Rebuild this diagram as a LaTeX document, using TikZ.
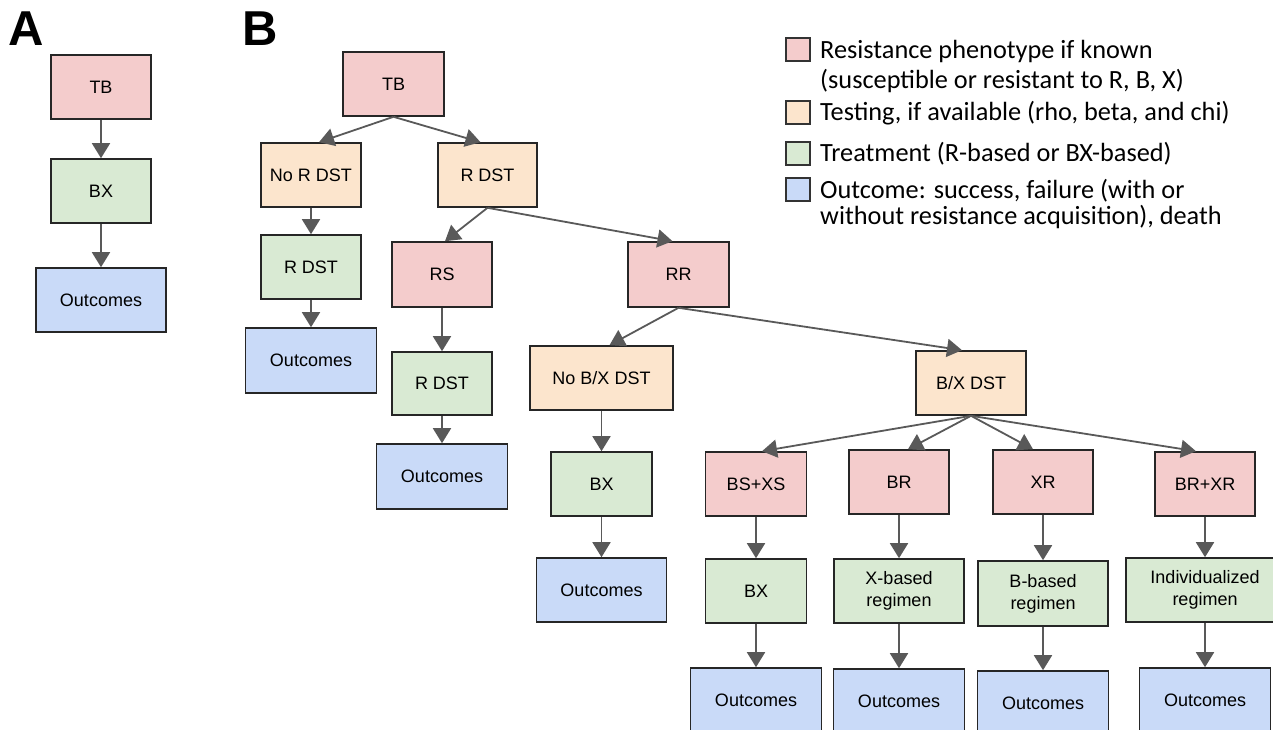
\documentclass[tikz,border=0pt]{standalone}
\usepackage{fontspec}
\usetikzlibrary{arrows.meta}
\newfontfamily\boxfont{Liberation Sans}
\newfontfamily\legfont{Carlito}
\definecolor{phenofill}{HTML}{F4CCCC}
\definecolor{testfill}{HTML}{FCE5CD}
\definecolor{treatfill}{HTML}{D9EAD3}
\definecolor{outfill}{HTML}{C9DAF8}
\definecolor{arrgray}{HTML}{595959}
\tikzset{
  stage/.style={draw=black!85, line width=1.6pt, minimum width=100pt, minimum height=64pt,
    inner sep=1pt, align=center, font=\boxfont\fontsize{18}{22}\selectfont},
  phenobox/.style={stage, fill=phenofill},
  testbox/.style={stage, fill=testfill},
  treatbox/.style={stage, fill=treatfill},
  outbox/.style={stage, fill=outfill, minimum width=131pt},
  arr/.style={draw=arrgray, line width=1.8pt, -{Triangle[width=18pt,length=15pt]}},
  legsq/.style={draw=black!80, line width=1.2pt, minimum width=24pt, minimum height=23pt, inner sep=0pt},
  legtext/.style={anchor=base west, inner sep=0pt, font=\legfont\fontsize{26.3}{30}\selectfont},
  panel/.style={anchor=base west, inner sep=0pt, font=\boxfont\bfseries\fontsize{49}{50}\selectfont}
}
\begin{document}
\begin{tikzpicture}[x=1pt,y=-1pt]
\useasboundingbox (0,0) rectangle (1273,729);
\node[panel] (labA) at (8,45) {A};
\node[panel] (labB) at (242,45) {B};
% panel A
\node[phenobox] (tbA) at (101,87) {TB};
\node[treatbox] (bxA) at (101,191) {BX};
\node[outbox, minimum width=130pt] (outA) at (101,300) {Outcomes};
\draw[arr] (tbA) -- (bxA);
\draw[arr] (bxA) -- (outA);
% panel B
\node[phenobox, minimum width=101pt] (tb) at (393.5,84) {TB};
\node[testbox] (noR) at (311,175) {No R DST};
\node[testbox, minimum width=99pt] (rdst) at (487.5,175) {R DST};
\node[treatbox] (rdstL) at (311,267) {R DST};
\node[outbox, minimum height=65pt] (outL) at (311,360.5) {Outcomes};
\node[phenobox, minimum height=65pt] (rs) at (442,274.5) {RS};
\node[treatbox, minimum height=63pt] (rdstR) at (442,383.5) {R DST};
\node[outbox, minimum height=65pt] (outR) at (442,476.5) {Outcomes};
\node[phenobox, minimum width=101pt, minimum height=65pt] (rr) at (678.5,274.5) {RR};
\node[testbox, minimum width=143pt] (noBX) at (601.5,378) {No B/X DST};
\node[treatbox, minimum width=101pt] (bx) at (601.5,484) {BX};
\node[outbox, minimum width=130pt] (outNB) at (601.5,590) {Outcomes};
\node[testbox, minimum width=110pt] (bxdst) at (971,383) {B/X DST};
\node[phenobox, minimum width=101pt] (bsxs) at (756,484) {BS+XS};
\node[phenobox] (br) at (899,482) {BR};
\node[phenobox] (xr) at (1043,482) {XR};
\node[phenobox] (brxr) at (1205,484) {BR+XR};
\node[treatbox, minimum width=101pt] (bx2) at (756,591) {BX};
\node[treatbox, minimum width=130pt] (xb) at (899,591) {X-based\\regimen};
\node[treatbox, minimum width=130pt, minimum height=65pt] (bb) at (1043,593.5) {B-based\\regimen};
\node[treatbox, minimum width=158pt] (ind) at (1205,590) {Individualized\\regimen};
\node[outbox] (out1) at (756,700) {Outcomes};
\node[outbox] (out2) at (899,701) {Outcomes};
\node[outbox] (out3) at (1043,703) {Outcomes};
\node[outbox] (out4) at (1205,700) {Outcomes};
\draw[arr] (tb.south) -- ([xshift=8pt]noR.north);
\draw[arr] (tb.south) -- ([xshift=-7pt]rdst.north);
\draw[arr] (noR) -- (rdstL);
\draw[arr] (rdstL) -- (outL);
\draw[arr] (rdst.south) -- ([xshift=3pt]rs.north);
\draw[arr] (rdst.south) -- ([xshift=-6pt]rr.north);
\draw[arr] (rs) -- (rdstR);
\draw[arr] (rdstR) -- (outR);
\draw[arr] (rr.south) -- ([xshift=8pt]noBX.north);
\draw[arr] (rr.south) -- ([xshift=-9pt]bxdst.north);
\draw[arr] (noBX) -- (bx);
\draw[arr] (bx) -- (outNB);
\draw[arr] (bxdst.south) -- ([xshift=6pt]bsxs.north);
\draw[arr] (bxdst.south) -- ([xshift=9pt]br.north);
\draw[arr] (bxdst.south) -- ([xshift=-10pt]xr.north);
\draw[arr] (bxdst.south) -- ([xshift=-9pt]brxr.north);
\draw[arr] (bsxs) -- (bx2);
\draw[arr] (br) -- (xb);
\draw[arr] (xr) -- (bb);
\draw[arr] (brxr) -- (ind);
\draw[arr] (bx2) -- (out1);
\draw[arr] (xb) -- (out2);
\draw[arr] (bb) -- (out3);
\draw[arr] (ind) -- (out4);
% legend
\node[legsq, fill=phenofill] (sqPheno) at (798,49.5) {};
\node[legsq, fill=testfill] (sqTest) at (798,112.5) {};
\node[legsq, fill=treatfill] (sqTreat) at (798,153.5) {};
\node[legsq, fill=outfill] (sqOut) at (798,189.5) {};
\node[legtext] (legPheno) at (820,58) {Resistance phenotype if known};
\node[legtext] (legPhenoB) at (820,88) {(susceptible or resistant to R, B, X)};
\node[legtext] (legTest) at (820,120) {Testing, if available (rho, beta, and chi)};
\node[legtext] (legTreat) at (820,161) {Treatment (R-based or BX-based)};
\node[legtext] (legOut) at (820,198) {Outcome: success, failure (with or};
\node[legtext] (legOutB) at (820,224) {without resistance acquisition), death};
\end{tikzpicture}
\end{document}
